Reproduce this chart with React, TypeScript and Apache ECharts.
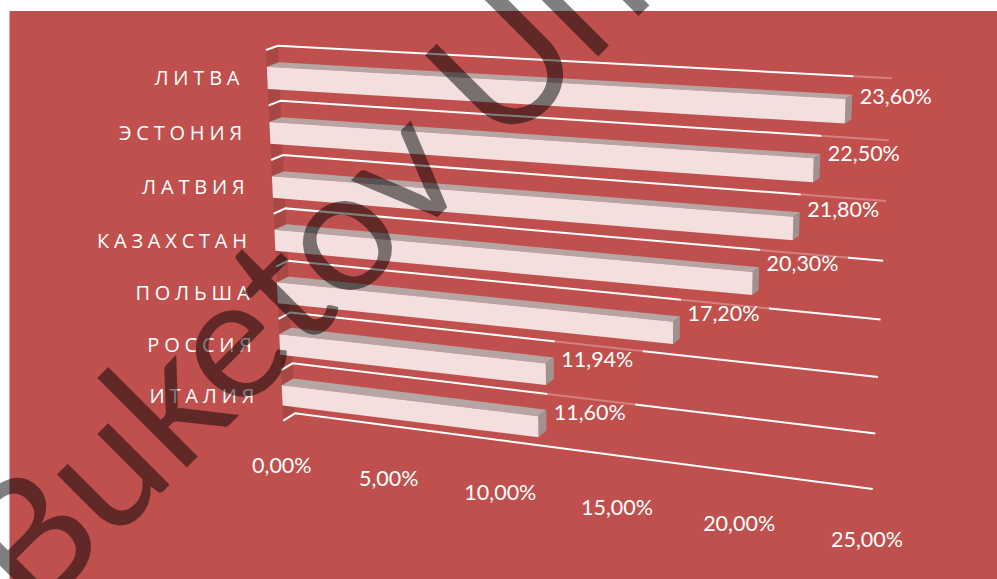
import React, { useEffect, useRef } from "react";
import * as echarts from "echarts";

const categories = ["ЛИТВА", "ЭСТОНИЯ", "ЛАТВИЯ", "КАЗАХСТАН", "ПОЛЬША", "РОССИЯ", "ИТАЛИЯ"];
const values = [23.6, 22.5, 21.8, 20.3, 17.2, 11.94, 11.6];
const ticks = [0, 5, 10, 15, 20, 25];
const labelShift = [1, -1, -3, -4, -3, 2, 2];

const W = 997;
const H = 579;
const RED = "#C0504D";
const FONT = "21.5px Lato, 'Open Sans', sans-serif";
const CAT_FONT = "20px 'Open Sans', sans-serif";
const GAP = 0.3;

type P = [number, number];
function homography(p0: P, p1: P, p2: P, p3: P) {
  const dx1 = p1[0] - p2[0], dx2 = p3[0] - p2[0], sx = p0[0] - p1[0] + p2[0] - p3[0];
  const dy1 = p1[1] - p2[1], dy2 = p3[1] - p2[1], sy = p0[1] - p1[1] + p2[1] - p3[1];
  const den = dx1 * dy2 - dx2 * dy1;
  const g = (sx * dy2 - dx2 * sy) / den;
  const h = (dx1 * sy - sx * dy1) / den;
  const a = p1[0] - p0[0] + g * p1[0], b = p3[0] - p0[0] + h * p3[0], c = p0[0];
  const d = p1[1] - p0[1] + g * p1[1], e = p3[1] - p0[1] + h * p3[1], f = p0[1];
  return (s: number, t: number): P => {
    const w = g * s + h * t + 1;
    return [(a * s + b * t + c) / w, (d * s + e * t + f) / w];
  };
}

// back plane holds the gridlines; front plane holds the bar faces
const back = homography([278, 45.7], [891.7, 78.3], [872.7, 489], [295, 413.3]);
const front = homography([266, 50], [885, 82.3], [868.5, 495], [283.3, 420.7]);

const at = (api: any, plane: (s: number, t: number) => P, v: number, u: number): P => {
  const c = api.coord([v, u]);
  return plane(c[0] / W, c[1] / H);
};

const poly = (points: P[], fill: string) => ({
  type: "polygon",
  shape: { points },
  style: { fill, stroke: "none" },
});

export default function App() {
  const ref = useRef<HTMLDivElement>(null);
  useEffect(() => {
    document.body.style.margin = "0";
    const chart = echarts.init(ref.current!, undefined, { renderer: "svg" });
    const n = categories.length;
    const option: any = {
      animation: false,
      backgroundColor: "#ffffff",
      grid: { left: 0, right: 0, top: 0, bottom: 0 },
      xAxis: { type: "value", min: 0, max: 25, interval: 5, show: false },
      yAxis: { type: "value", min: 0, max: n, interval: 1, inverse: true, show: false },
      graphic: [
        {
          type: "rect",
          z: -10,
          silent: true,
          shape: { x: 9.5, y: 11, width: W, height: H, r: 1 },
          style: { fill: RED },
        },
        {
          type: "text",
          z: 100,
          silent: true,
          x: 47,
          y: 635,
          rotation: Math.PI / 4,
          style: {
            text: "Buketov Uni",
            font: "172px Lato, 'Open Sans', sans-serif",
            fill: "rgba(0,0,0,0.5)",
            align: "left",
            verticalAlign: "bottom",
          },
        },
      ],
      series: [
        {
          type: "custom",
          name: "wall",
          silent: true,
          data: [[0, 0]],
          renderItem: (_p: any, api: any) =>
            poly(
              [at(api, front, 0, 0), at(api, back, 0, 0), at(api, back, 0, n), at(api, front, 0, n)],
              "#A94744"
            ),
        },
        {
          type: "custom",
          name: "grid",
          silent: true,
          data: Array.from({ length: n + 1 }, (_, k) => [25, k]),
          renderItem: (_p: any, api: any) => {
            const k = api.value(1);
            return {
              type: "polyline",
              shape: { points: [at(api, front, 0, k), at(api, back, 0, k), at(api, back, 25, k)] },
              style: { stroke: "#ffffff", lineWidth: 2, fill: "none" },
            };
          },
        },
        {
          type: "custom",
          name: "labelBoxes",
          silent: true,
          data: values.map((v, i) => [v, i]),
          renderItem: (_p: any, api: any) => {
            const v = api.value(0);
            const i = api.value(1);
            const p = at(api, back, v, i + GAP);
            const y = p[1] + labelShift[i];
            return {
              type: "rect",
              shape: { x: p[0] + 1, y: y - 22, width: 88, height: 42 },
              style: { fill: "rgba(192,80,77,0.72)" },
            };
          },
        },
        {
          type: "custom",
          name: "bars",
          silent: true,
          data: values.map((v, i) => [v, i]),
          renderItem: (_p: any, api: any) => {
            const v = api.value(0);
            const i = api.value(1);
            const t = i + GAP;
            const b = i + 1 - GAP;
            const fTL = at(api, front, 0, t), fTR = at(api, front, v, t);
            const fBL = at(api, front, 0, b), fBR = at(api, front, v, b);
            const bTL = at(api, back, 0, t), bTR = at(api, back, v, t), bBR = at(api, back, v, b);
            return {
              type: "group",
              children: [
                poly([fTL, bTL, bTR, fTR], "#B5A5A4"),
                poly([fTR, bTR, bBR, fBR], "#A09291"),
                poly([fTL, fTR, fBR, fBL], "#F2DFDE"),
              ],
            };
          },
        },
        {
          type: "custom",
          name: "values",
          silent: true,
          data: values.map((v, i) => [v, i]),
          renderItem: (_p: any, api: any) => {
            const v = api.value(0);
            const i = api.value(1);
            const p = at(api, back, v, i + GAP);
            return {
              type: "text",
              style: {
                text: v.toFixed(2).replace(".", ",") + "%",
                x: p[0] + 7.5,
                y: p[1] + labelShift[i],
                font: FONT,
                fill: "#ffffff",
                align: "left",
                verticalAlign: "middle",
              },
            };
          },
        },
        {
          type: "custom",
          name: "categories",
          silent: true,
          data: categories.map((_, i) => [0, i]),
          renderItem: (_p: any, api: any) => {
            const i = api.value(1);
            const p = at(api, front, 0, i + 0.5);
            return {
              type: "text",
              style: {
                text: categories[i],
                x: p[0] - 23,
                y: p[1],
                font: CAT_FONT,
                fill: "#ffffff",
                align: "right",
                verticalAlign: "middle",
              },
            };
          },
        },
        {
          type: "custom",
          name: "ticks",
          silent: true,
          data: ticks.map((t) => [t, n]),
          renderItem: (_p: any, api: any) => {
            const t = api.value(0);
            const p = at(api, front, t, n);
            return {
              type: "text",
              style: {
                text: t.toFixed(2).replace(".", ",") + "%",
                x: p[0] - 1.5,
                y: p[1] + 44,
                font: FONT,
                fill: "#ffffff",
                align: "center",
                verticalAlign: "middle",
              },
            };
          },
        },
      ],
    };
    chart.setOption(option);
    const spaceLabels = () => {
      ref.current?.querySelectorAll("text").forEach((el) => {
        if (categories.includes((el.textContent || "").trim())) {
          el.setAttribute("letter-spacing", "4.8");
        }
      });
    };
    spaceLabels();
    chart.on("finished", spaceLabels);
    return () => chart.dispose();
  }, []);
  return <div ref={ref} style={{ position: "absolute", left: 0, top: 0, width: W, height: H }} />;
}
